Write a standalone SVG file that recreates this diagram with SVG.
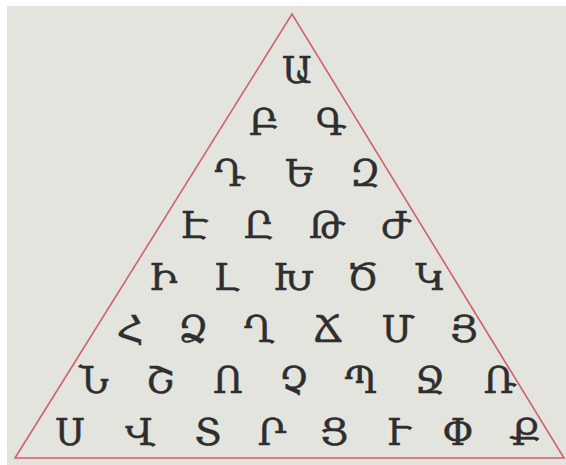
<svg xmlns="http://www.w3.org/2000/svg" width="566" height="465" viewBox="0 0 566 465">
<style>
.l{font-family:"DejaVu Serif",serif;font-size:37px;fill:#2e2e2e;stroke:#2e2e2e;stroke-width:0.5;text-anchor:middle}
.tri{fill:none;stroke:#d0606a;stroke-width:1.6}
</style>
<rect x="0" y="0" width="566" height="465" fill="#ffffff"/>
<rect x="7" y="6" width="559" height="459" fill="#e4e4df"/>
<g id="connectors">
<polygon class="tri" points="15,458 292,14 564,458"/>
</g>
<g id="row1"><text id="n1" class="l" x="297" y="83">Ա</text></g>
<g id="row2"><text id="n2" class="l" x="264" y="135">Բ</text><text id="n3" class="l" x="331" y="135">Գ</text></g>
<g id="row3"><text id="n4" class="l" x="230" y="186">Դ</text><text id="n5" class="l" x="300" y="186">Ե</text><text id="n6" class="l" x="365" y="186">Զ</text></g>
<g id="row4"><text id="n7" class="l" x="194" y="238">Է</text><text id="n8" class="l" x="259" y="238">Ը</text><text id="n9" class="l" x="327" y="238">Թ</text><text id="n10" class="l" x="396" y="238">Ժ</text></g>
<g id="row5"><text id="n11" class="l" x="163" y="290">Ի</text><text id="n12" class="l" x="226" y="290">Լ</text><text id="n13" class="l" x="293" y="290">Խ</text><text id="n14" class="l" x="363" y="290">Ծ</text><text id="n15" class="l" x="430" y="290">Կ</text></g>
<g id="row6"><text id="n16" class="l" x="130" y="342">Հ</text><text id="n17" class="l" x="193" y="342">Ձ</text><text id="n18" class="l" x="259" y="342">Ղ</text><text id="n19" class="l" x="328" y="342">Ճ</text><text id="n20" class="l" x="398" y="342">Մ</text><text id="n21" class="l" x="464" y="342">Յ</text></g>
<g id="row7"><text id="n22" class="l" x="94" y="393">Ն</text><text id="n23" class="l" x="160" y="393">Շ</text><text id="n24" class="l" x="228" y="393">Ո</text><text id="n25" class="l" x="294" y="393">Չ</text><text id="n26" class="l" x="361" y="393">Պ</text><text id="n27" class="l" x="430" y="393">Ջ</text><text id="n28" class="l" x="500" y="393">Ռ</text></g>
<g id="row8"><text id="n29" class="l" x="70" y="445">Ս</text><text id="n30" class="l" x="140" y="445">Վ</text><text id="n31" class="l" x="208" y="445">Տ</text><text id="n32" class="l" x="272" y="445">Ր</text><text id="n33" class="l" x="334" y="445">Ց</text><text id="n34" class="l" x="398" y="445">Ւ</text><text id="n35" class="l" x="458" y="445">Փ</text><text id="n36" class="l" x="525" y="445">Ք</text></g>
</svg>
